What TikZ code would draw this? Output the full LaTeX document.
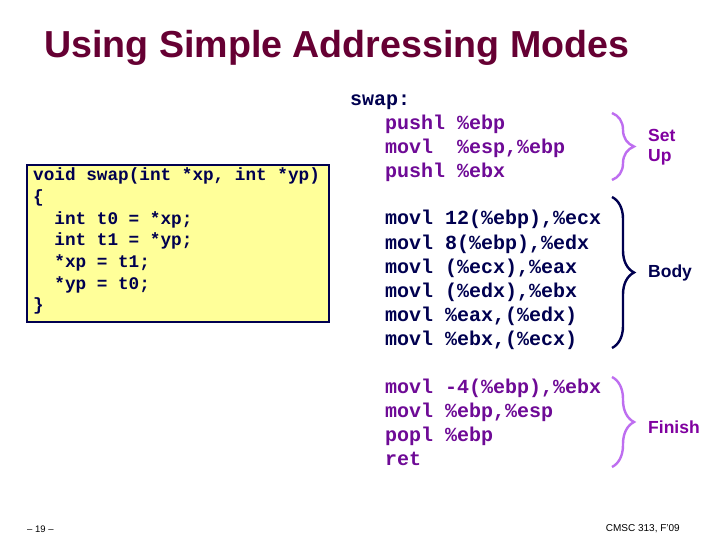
\documentclass[tikz,border=0pt]{standalone}
\usepackage{fontspec}
\setmainfont{Liberation Sans}
\newfontfamily\codefont{Liberation Mono}
\usetikzlibrary{decorations.pathreplacing}

\definecolor{titlered}{RGB}{102,0,51}
\definecolor{setupviolet}{RGB}{110,10,150}
\definecolor{labelviolet}{RGB}{128,0,160}
\definecolor{bodynavy}{RGB}{0,0,80}
\definecolor{bracelilac}{RGB}{190,110,240}
\definecolor{boxyellow}{RGB}{255,255,153}

\tikzset{
  asm/.style={anchor=base west,inner sep=0pt,font=\codefont\bfseries\fontsize{20}{24}\selectfont},
  csrc/.style={anchor=base west,inner sep=0pt,text=bodynavy,font=\codefont\bfseries\fontsize{17.7}{21.6}\selectfont},
  partlabel/.style={anchor=west,inner sep=0pt,align=left,font=\bfseries\fontsize{17.5}{20}\selectfont},
  partbrace/.style={decorate,decoration={brace,amplitude=22pt},line width=2.4pt}
}

\begin{document}
\begin{tikzpicture}[x=1pt,y=1pt]
        \useasboundingbox (0,0) rectangle (720,-540);
        \fill[white] (0,0) rectangle (720,-540);

        \node[anchor=base west,inner sep=0pt,text=titlered,font=\bfseries\fontsize{37.6}{40}\selectfont] (title) at (44,-58) {Using Simple Addressing Modes};

        % C source
        \draw[fill=boxyellow,draw=bodynavy,line width=1.5pt] (27,-165) rectangle (329,-322);
        \node[csrc] (c1) at (33,-181) {void swap(int *xp, int *yp)};
        \node[csrc] (c2) at (33,-202.6) {\{};
        \node[csrc] (c3) at (54.2,-224.2) {int t0 = *xp;};
        \node[csrc] (c4) at (54.2,-245.8) {int t1 = *yp;};
        \node[csrc] (c5) at (54.2,-267.4) {*xp = t1;};
        \node[csrc] (c6) at (54.2,-289) {*yp = t0;};
        \node[csrc] (c7) at (33,-310.6) {\}};

        % assembly
        \node[asm,text=bodynavy] (swap) at (350,-106) {swap:};
        \node[asm,text=setupviolet] (s1) at (385,-130) {pushl \%ebp};
        \node[asm,text=setupviolet] (s2) at (385,-154) {movl\ \ \%esp,\%ebp};
        \node[asm,text=setupviolet] (s3) at (385,-178) {pushl \%ebx};

        \node[asm,text=bodynavy] (b1) at (385,-225) {movl 12(\%ebp),\%ecx};
        \node[asm,text=bodynavy] (b2) at (385,-249) {movl 8(\%ebp),\%edx};
        \node[asm,text=bodynavy] (b3) at (385,-273) {movl (\%ecx),\%eax};
        \node[asm,text=bodynavy] (b4) at (385,-297) {movl (\%edx),\%ebx};
        \node[asm,text=bodynavy] (b5) at (385,-321) {movl \%eax,(\%edx)};
        \node[asm,text=bodynavy] (b6) at (385,-345) {movl \%ebx,(\%ecx)};

        \node[asm,text=setupviolet] (f1) at (385,-393) {movl -4(\%ebp),\%ebx};
        \node[asm,text=setupviolet] (f2) at (385,-417) {movl \%ebp,\%esp};
        \node[asm,text=setupviolet] (f3) at (385,-441) {popl \%ebp};
        \node[asm,text=setupviolet] (f4) at (385,-465) {ret};

        % braces
        \coordinate (setuptop) at (612,-113);
        \coordinate (setupbot) at (612,-180);
        \coordinate (bodytop) at (612,-197);
        \coordinate (bodybot) at (612,-348);
        \coordinate (finishtop) at (612,-377);
        \coordinate (finishbot) at (612,-467);
        \draw[partbrace,bracelilac] (setuptop) -- (setupbot);
        \draw[partbrace,bodynavy] (bodytop) -- (bodybot);
        \draw[partbrace,bracelilac] (finishtop) -- (finishbot);

        \node[partlabel,text=labelviolet] (setup) at (648,-147) {Set\\Up};
        \node[partlabel,text=bodynavy] (body) at (648,-273) {Body};
        \node[partlabel,text=labelviolet] (finish) at (648,-427) {Finish};

        % footer
        \node[anchor=base west,inner sep=0pt,font=\fontsize{9.5}{11}\selectfont] (page) at (27,-532) {-- 19 --};
        \node[anchor=base east,inner sep=0pt,font=\fontsize{10}{12}\selectfont] (course) at (680,-531) {CMSC 313, F'09};
\end{tikzpicture}
\end{document}
